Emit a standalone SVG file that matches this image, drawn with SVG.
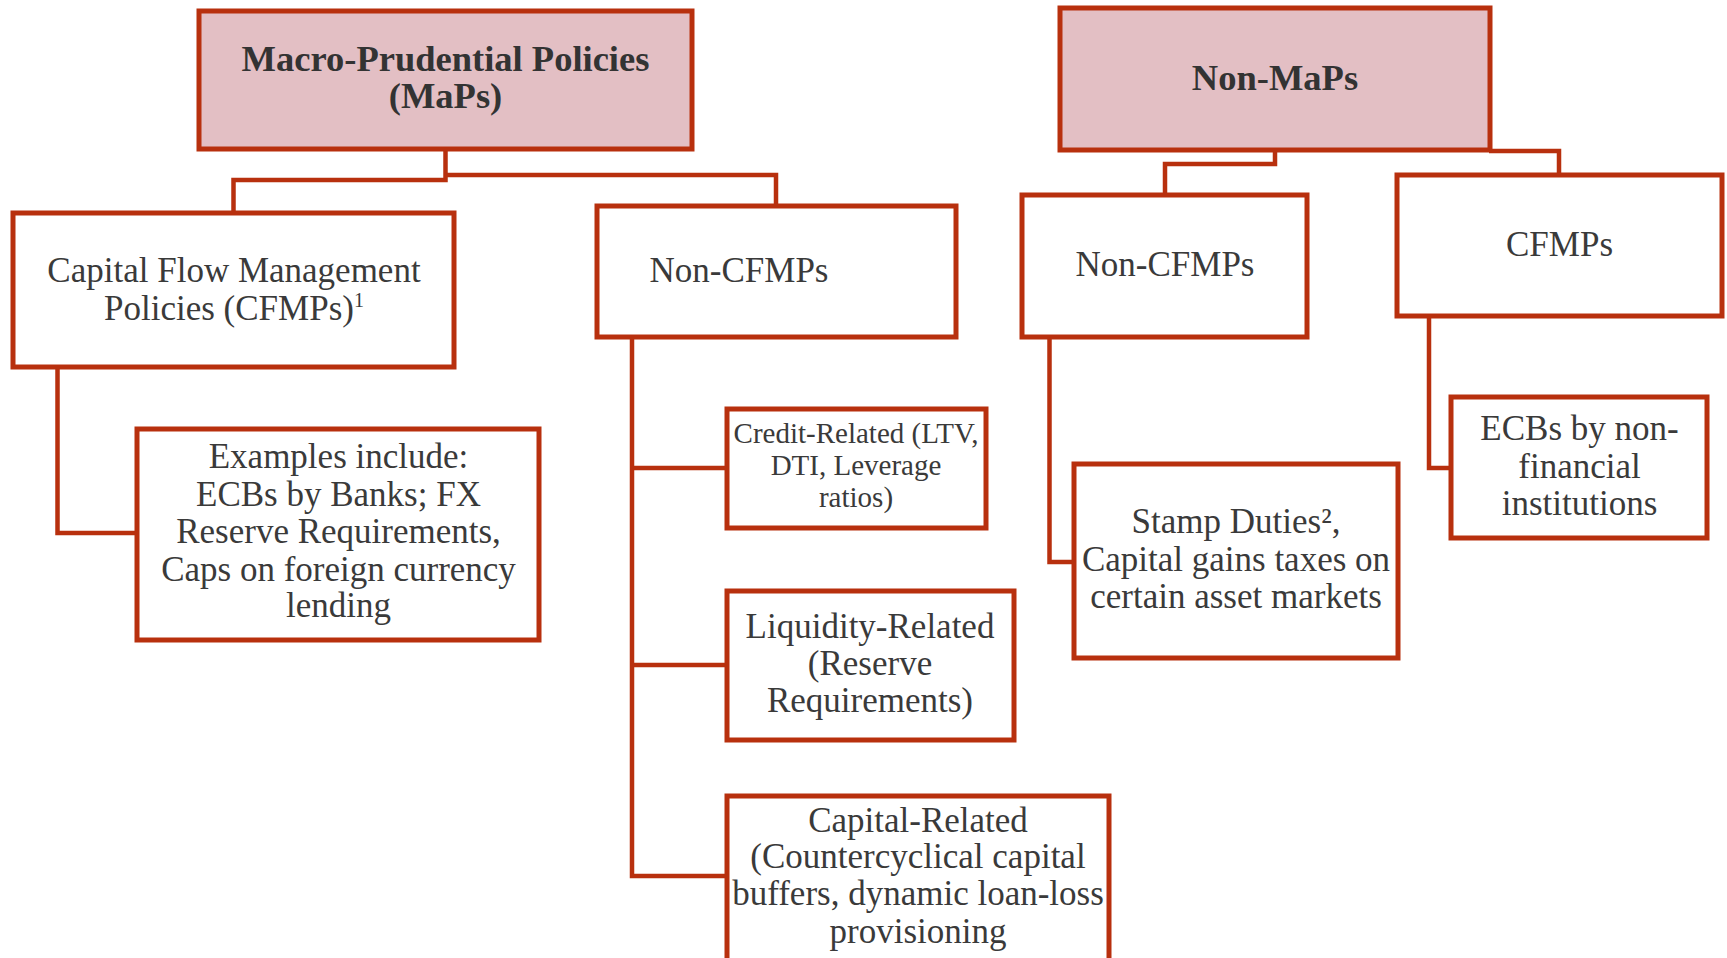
<svg xmlns="http://www.w3.org/2000/svg" width="1727" height="958" viewBox="0 0 1727 958">
<style>
.box{fill:#ffffff;stroke:#B8300E;stroke-width:5}
.head{fill:#E3BFC4;stroke:#B8300E;stroke-width:5}
.conn{fill:none;stroke:#B8300E;stroke-width:4.5;stroke-linejoin:miter}
text{font-family:"Liberation Serif","Times New Roman",serif;fill:#3a3a3a;text-anchor:middle;font-size:35px}
.b{font-weight:bold;font-size:36.5px;fill:#333333}
.s{font-size:29px}
</style>
<rect width="1727" height="958" fill="#ffffff"/>
<g id="connectors">
<path class="conn" d="M445.5,150 V180 H233.5 V212"/>
<path class="conn" d="M445.5,175 H776 V206"/>
<path class="conn" d="M1275,151 V164 H1165 V195"/>
<path class="conn" d="M1489,151 H1559 V175"/>
<path class="conn" d="M57.5,367 V533 H137"/>
<path class="conn" d="M632,337 V876 H727"/>
<path class="conn" d="M632,468 H727"/>
<path class="conn" d="M632,665 H727"/>
<path class="conn" d="M1049.5,337 V562 H1074"/>
<path class="conn" d="M1429,316 V468 H1451"/>
</g>
<g id="maps">
<rect class="head" x="199" y="11" width="493" height="138"/>
<text class="b" x="445.5" y="71">Macro-Prudential Policies</text>
<text class="b" x="445.5" y="108">(MaPs)</text>
</g>
<g id="nonmaps">
<rect class="head" x="1060" y="8" width="430" height="142"/>
<text class="b" x="1275" y="90">Non-MaPs</text>
</g>
<g id="cfmp">
<rect class="box" x="13" y="213" width="441" height="154"/>
<text x="234" y="282">Capital Flow Management</text>
<text x="234" y="320">Policies (CFMPs)<tspan font-size="20" dy="-13">1</tspan></text>
</g>
<g id="noncfmp1">
<rect class="box" x="597" y="206" width="359" height="131"/>
<text x="739" y="282">Non-CFMPs</text>
</g>
<g id="noncfmp2">
<rect class="box" x="1022" y="195" width="285" height="142"/>
<text x="1165" y="276">Non-CFMPs</text>
</g>
<g id="cfmps">
<rect class="box" x="1397" y="175" width="325" height="141"/>
<text x="1559.5" y="256">CFMPs</text>
</g>
<g id="examples">
<rect class="box" x="137" y="429" width="402" height="211"/>
<text x="338.5" y="468">Examples include:</text>
<text x="338.5" y="505.5">ECBs by Banks; FX</text>
<text x="338.5" y="543">Reserve Requirements,</text>
<text x="338.5" y="580.5">Caps on foreign currency</text>
<text x="338.5" y="617">lending</text>
</g>
<g id="credit">
<rect class="box" x="727" y="409" width="259" height="119"/>
<text class="s" x="856" y="443">Credit-Related (LTV,</text>
<text class="s" x="856" y="475">DTI, Leverage</text>
<text class="s" x="856" y="507">ratios)</text>
</g>
<g id="liquidity">
<rect class="box" x="727" y="591" width="287" height="149"/>
<text x="870" y="638">Liquidity-Related</text>
<text x="870" y="675">(Reserve</text>
<text x="870" y="712">Requirements)</text>
</g>
<g id="capital">
<rect class="box" x="727" y="796" width="382" height="180"/>
<text x="918" y="831.5">Capital-Related</text>
<text x="918" y="868">(Countercyclical capital</text>
<text x="918" y="905">buffers, dynamic loan-loss</text>
<text x="918" y="943">provisioning</text>
</g>
<g id="stamp">
<rect class="box" x="1074" y="464" width="324" height="194"/>
<text x="1236" y="533">Stamp Duties²,</text>
<text x="1236" y="570.5">Capital gains taxes on</text>
<text x="1236" y="608">certain asset markets</text>
</g>
<g id="ecbs">
<rect class="box" x="1451" y="397" width="256" height="141"/>
<text x="1579.5" y="440">ECBs by non-</text>
<text x="1579.5" y="477.5">financial</text>
<text x="1579.5" y="515">institutions</text>
</g>
</svg>
